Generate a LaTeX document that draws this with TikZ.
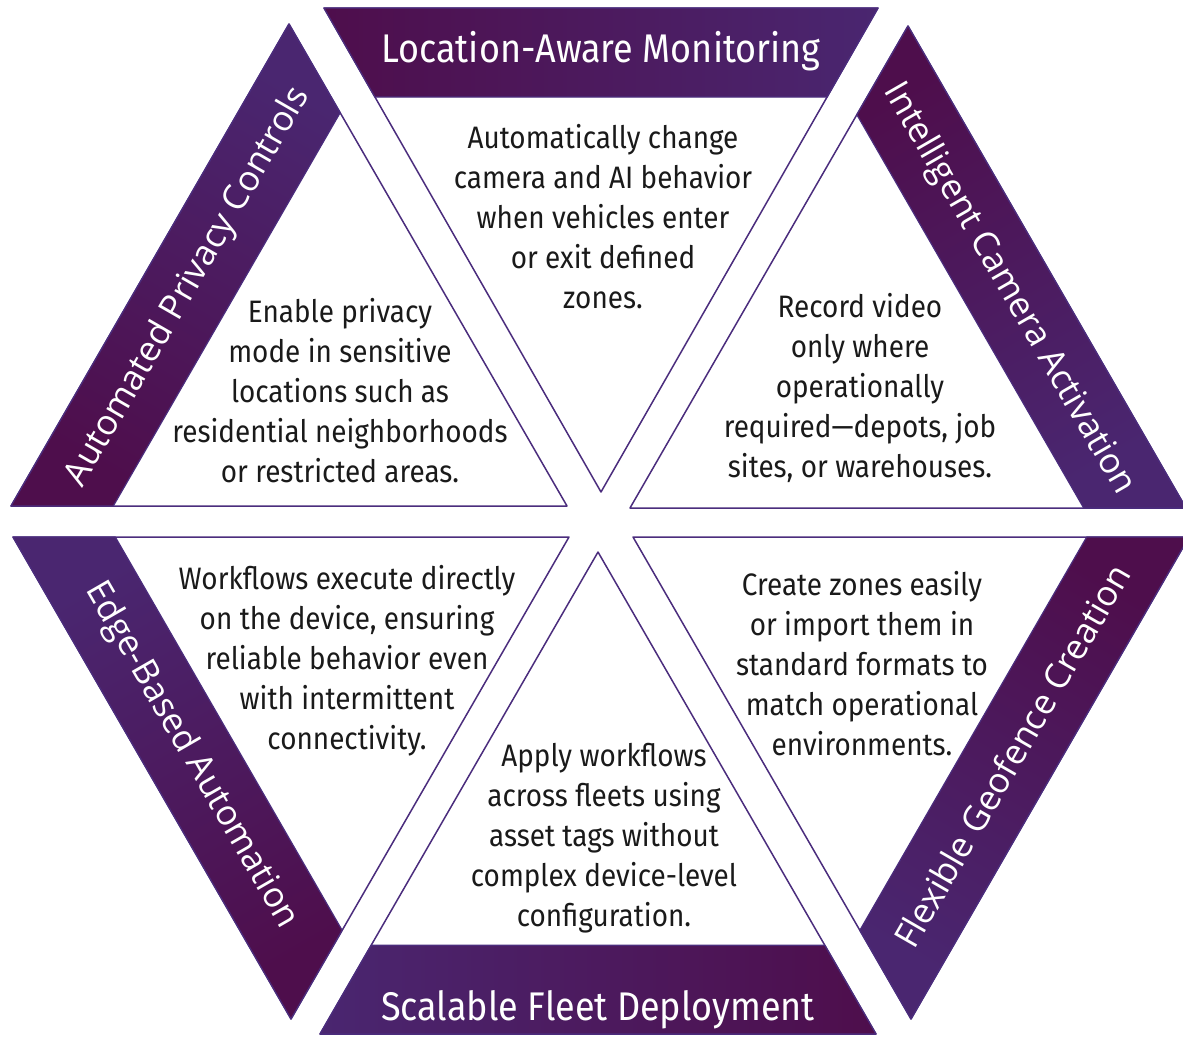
\documentclass[tikz,border=0pt]{standalone}
\usepackage{fontspec}
\usetikzlibrary{calc}
\setmainfont{Fira Sans}
\newfontfamily\bodyfont[FakeStretch=0.9]{Fira Sans}
\newfontfamily\titlefont[FakeStretch=0.9]{Fira Sans}
\newfontfamily\sidefont{Open Sans}
\definecolor{plum}{HTML}{4E0E4C}
\definecolor{orchid}{HTML}{5B1561}
\definecolor{grape}{HTML}{4A2670}
\definecolor{rim}{HTML}{4B2D7D}
\definecolor{ink}{HTML}{1A1A1A}
\begin{document}
\begin{tikzpicture}[x=1pt, y=-1pt, line join=round,
  facet/.style={draw=rim, line width=1.5pt, fill=white},
  band/.style={draw=rim, line width=1.2pt, left color=plum, middle color=orchid, right color=grape},
  title/.style={text=white, font=\titlefont\fontsize{40}{44}\selectfont},
  sidetitle/.style={text=white, font=\sidefont\fontsize{35}{37}\selectfont},
  body/.style={align=center, text=ink, font=\bodyfont\fontsize{31}{40}\selectfont}]
\useasboundingbox (0,0) rectangle (1183,1037);
% outer corners (1,2) and inner tip (0) of the six facets
\coordinate (a1) at (324,8);    \coordinate (a2) at (878,8);    \coordinate (a0) at (601,492);
\coordinate (b1) at (908,26);   \coordinate (b2) at (1186,508); \coordinate (b0) at (630,508);
\coordinate (c1) at (1189,537); \coordinate (c2) at (911,1019); \coordinate (c0) at (633,537);
\coordinate (d1) at (876,1034); \coordinate (d2) at (320,1034); \coordinate (d0) at (598,552);
\coordinate (e1) at (291,1019); \coordinate (e2) at (13,537);   \coordinate (e0) at (569,537);
\coordinate (f1) at (11,506);   \coordinate (f2) at (289,24);   \coordinate (f0) at (567,506);
\foreach \f/\ang in {a/90, b/30, c/-30, d/-90, e/-150, f/150}{
  \coordinate (\f m) at ($(\f1)!0.5!(\f2)$);
  \draw[facet] (\f1) -- (\f2) -- (\f0) -- cycle;
  \path[band, shading angle=\ang] (\f1) -- (\f2) -- ($(\f2)!0.184!(\f0)$) -- ($(\f1)!0.184!(\f0)$) -- cycle;
}
% titles
\node[title] (loc) at ($(am)!0.09!(a0)$) {Location-Aware Monitoring};
\node[sidetitle, rotate=-60] (cam) at ($(bm)!0.092!(b0)$) {Intelligent Camera Activation};
\node[sidetitle, rotate=60] (geo) at ($(cm)!0.092!(c0)$) {Flexible Geofence Creation};
\node[title] (fleet) at ($(dm)!0.05!(d0)$) {Scalable Fleet Deployment};
\node[sidetitle, rotate=-60] (edge) at ($(em)!0.094!(e0)$) {Edge-Based Automation};
\node[sidetitle, rotate=60] (priv) at ($(fm)!0.092!(f0)$) {Automated Privacy Controls};
% texts
\node[body] (loctxt) at (603,217) {Automatically change\\camera and AI behavior\\when vehicles enter\\or exit defined\\zones.};
\node[body] (camtxt) at (860,388) {Record video\\only where\\operationally\\required—depots, job\\sites, or warehouses.};
\node[body] (geotxt) at (862,664) {Create zones easily\\or import them in\\standard formats to\\match operational\\environments.};
\node[body] (fleettxt) at (604,838) {Apply workflows\\across fleets using\\asset tags without\\complex device-level\\configuration.};
\node[body] (edgetxt) at (347,661) {Workflows execute directly\\on the device, ensuring\\reliable behavior even\\with intermittent\\connectivity.};
\node[body] (privtxt) at (340,391) {Enable privacy\\mode in sensitive\\locations such as\\residential neighborhoods\\or restricted areas.};
\end{tikzpicture}
\end{document}
